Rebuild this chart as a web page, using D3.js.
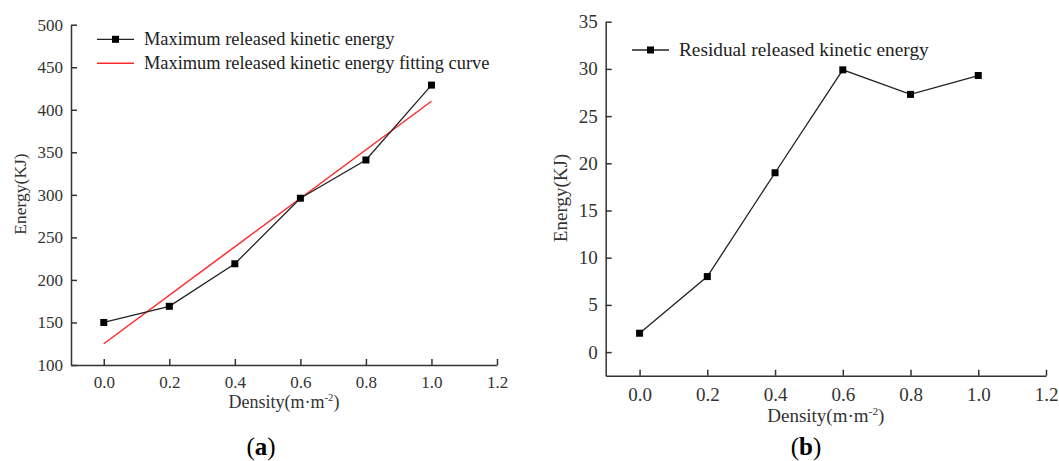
<!DOCTYPE html>
<html>
<head>
<meta charset="utf-8">
<script src="https://cdn.jsdelivr.net/npm/d3@7"></script>
<style>
  body { margin: 0; background: #fff; }
  svg { display: block; font-family: "Liberation Serif", "Times New Roman", serif; }
  .axis path, .axis line { stroke: #333; stroke-width: 1.5; }
  .axis text { fill: #333; font-family: "Liberation Serif", "Times New Roman", serif; }
</style>
</head>
<body>
<svg id="chart" width="1059" height="461"></svg>
<script>
// density values shared by both panels
const density = [0.0, 0.2, 0.4, 0.6, 0.8, 1.0];
const xTicks = [0.0, 0.2, 0.4, 0.6, 0.8, 1.0, 1.2];

// panel (a)
const maxEnergy = [150, 169, 219, 296, 341, 429];
const fitX = [0.0, 1.0];
const fitY = [125, 410];
const yTicksA = [100, 150, 200, 250, 300, 350, 400, 450, 500];

// panel (b)
const residualEnergy = [2.0, 8.0, 19.0, 29.9, 27.3, 29.3];
const yTicksB = [0, 5, 10, 15, 20, 25, 30, 35];

const svg = d3.select("#chart");

function drawPanel(p) {
  const x = d3.scaleLinear().domain([-0.1, 1.2]).range([p.left, p.right]);
  const y = d3.scaleLinear().domain(p.yDomain).range([p.bottom, p.top]);

  const xAxis = d3.axisBottom(x)
    .tickValues(xTicks)
    .tickFormat(d3.format(".1f"))
    .tickSizeInner(-6)
    .tickSizeOuter(0)
    .tickPadding(p.xPad);

  const yAxis = d3.axisLeft(y)
    .tickValues(p.yTicks)
    .tickSizeInner(-6)
    .tickSizeOuter(0)
    .tickPadding(8);

  const gx = svg.append("g")
    .attr("class", "axis")
    .attr("transform", "translate(0," + p.bottom + ")")
    .call(xAxis);
  gx.selectAll("text").style("font-size", p.tickFont + "px");

  const gy = svg.append("g")
    .attr("class", "axis")
    .attr("transform", "translate(" + p.left + ",0)")
    .call(yAxis);
  gy.selectAll("text").style("font-size", p.tickFont + "px");

  // fitting line (only for panel a)
  if (p.fit) {
    const fitPts = p.fit.x.map((d, i) => [d, p.fit.y[i]]);
    svg.append("path")
      .datum(fitPts)
      .attr("fill", "none")
      .attr("stroke", "#ff2a2a")
      .attr("stroke-width", 1.5)
      .attr("d", d3.line().x((d) => x(d[0])).y((d) => y(d[1])));
  }

  const pts = density.map((d, i) => [d, p.values[i]]);

  svg.append("path")
    .datum(pts)
    .attr("fill", "none")
    .attr("stroke", "#222")
    .attr("stroke-width", 1.3)
    .attr("d", d3.line().x((d) => x(d[0])).y((d) => y(d[1])));

  svg.selectAll(null)
    .data(pts)
    .enter()
    .append("rect")
    .attr("x", (d) => x(d[0]) - 3.5)
    .attr("y", (d) => y(d[1]) - 3.5)
    .attr("width", 7)
    .attr("height", 7)
    .attr("fill", "#000");

  // axis titles
  const xt = svg.append("text")
    .attr("x", (p.left + p.right) / 2)
    .attr("y", p.xTitleY)
    .attr("text-anchor", "middle")
    .attr("fill", "#333")
    .style("font-size", p.titleFont + "px");
  xt.append("tspan").text("Density(m·m");
  xt.append("tspan").attr("dy", -7).style("font-size", (p.titleFont * 0.6) + "px").text("-2");
  xt.append("tspan").attr("dy", 7).text(")");

  svg.append("text")
    .attr("transform", "translate(" + p.yTitleX + "," + p.yTitleY + ") rotate(-90)")
    .attr("text-anchor", "middle")
    .attr("dy", "0.35em")
    .attr("fill", "#333")
    .style("font-size", p.yTitleFont + "px")
    .text("Energy(KJ)");

  // legend
  p.legend.forEach((l, i) => {
    const ly = p.legendY + i * 24;
    svg.append("line")
      .attr("x1", p.legendX).attr("x2", p.legendX + 37)
      .attr("y1", ly).attr("y2", ly)
      .attr("stroke", l.color)
      .attr("stroke-width", l.marker ? 1.3 : 1.5);
    if (l.marker) {
      svg.append("rect")
        .attr("x", p.legendX + 18.5 - 3.5)
        .attr("y", ly - 3.5)
        .attr("width", 7).attr("height", 7)
        .attr("fill", "#000");
    }
    svg.append("text")
      .attr("x", p.legendX + 47)
      .attr("y", ly)
      .attr("dy", "0.33em")
      .attr("fill", "#222")
      .style("font-size", p.legendFont + "px")
      .text(l.label);
  });

  // panel label
  const lab = svg.append("text")
    .attr("x", p.labelX)
    .attr("y", p.labelY)
    .attr("text-anchor", "middle")
    .attr("fill", "#000")
    .style("font-size", "25px");
  lab.append("tspan").text("(");
  lab.append("tspan").attr("font-weight", "bold").text(p.label);
  lab.append("tspan").text(")");
}

drawPanel({
  left: 71, right: 497, top: 24.7, bottom: 365,
  yDomain: [100, 500], yTicks: yTicksA,
  values: maxEnergy,
  fit: { x: fitX, y: fitY },
  xPad: 11, tickFont: 17, titleFont: 18, yTitleFont: 17.5,
  xTitleY: 408, yTitleX: 20, yTitleY: 194,
  legendX: 97, legendY: 39.3, legendFont: 18.4,
  legend: [
    { label: "Maximum released kinetic energy", color: "#222", marker: true },
    { label: "Maximum released kinetic energy fitting curve", color: "#ff2a2a", marker: false }
  ],
  label: "a", labelX: 261, labelY: 455
});

drawPanel({
  left: 605.7, right: 1046, top: 21.7, bottom: 375.7,
  yDomain: [-2.5, 35], yTicks: yTicksB,
  values: residualEnergy,
  fit: null,
  xPad: 12, tickFont: 19, titleFont: 19, yTitleFont: 19,
  xTitleY: 421.7, yTitleX: 560, yTitleY: 198,
  legendX: 632, legendY: 50, legendFont: 19.3,
  legend: [
    { label: "Residual released kinetic energy", color: "#222", marker: true }
  ],
  label: "b", labelX: 806, labelY: 455
});
</script>
</body>
</html>
